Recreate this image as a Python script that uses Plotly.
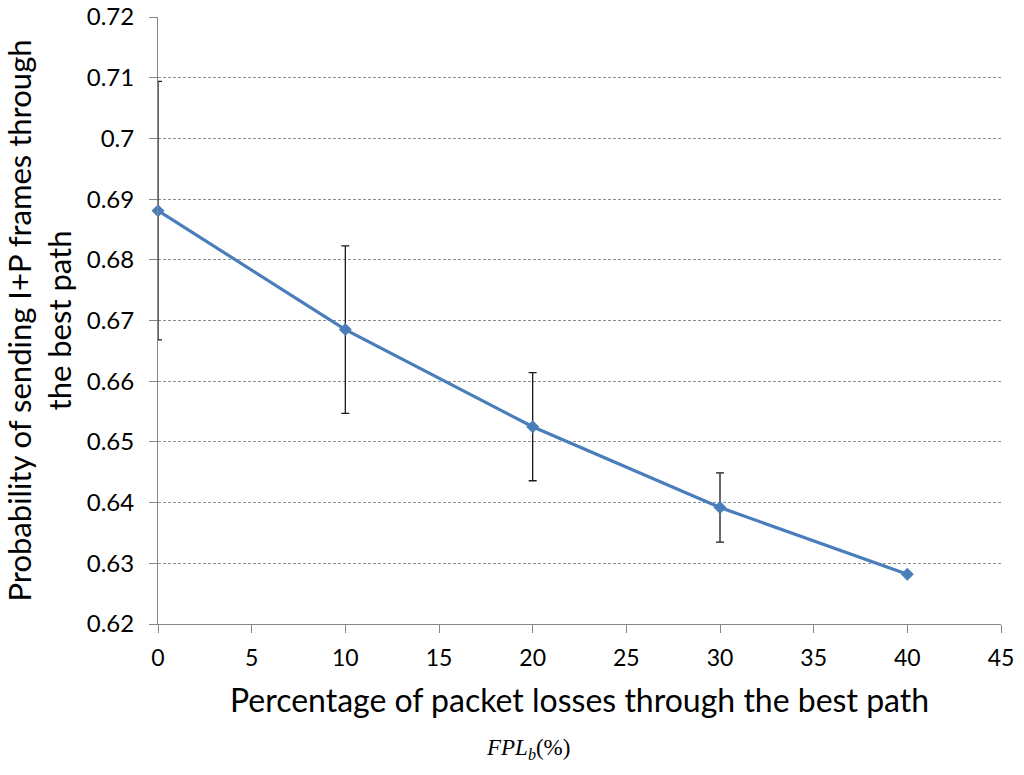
import plotly.graph_objects as go

x_vals = [0, 10, 20, 30, 40]
y_vals = [0.6881, 0.6685, 0.6525, 0.6392, 0.6282]
err_vals = [0.0213, 0.0138, 0.0089, 0.0057, 0.0]
y_ticks = [0.62, 0.63, 0.64, 0.65, 0.66, 0.67, 0.68, 0.69, 0.70, 0.71, 0.72]
y_tick_text = ["0.62", "0.63", "0.64", "0.65", "0.66", "0.67", "0.68", "0.69", "0.7", "0.71", "0.72"]
x_ticks = [0, 5, 10, 15, 20, 25, 30, 35, 40, 45]

font_family = "Lato, 'Open Sans', sans-serif"

fig = go.Figure()
fig.add_trace(go.Scatter(
    x=x_vals, y=y_vals, mode="lines+markers",
    line=dict(color="#4a7ebb", width=3.2),
    marker=dict(symbol="diamond", size=10, color="#4a7ebb"),
    error_y=dict(type="data", array=err_vals, visible=True, color="#1a1a1a", thickness=1.3, width=4),
    cliponaxis=False,
    showlegend=False,
))

fig.update_layout(
    width=1024, height=775,
    margin=dict(l=158, r=23, t=17, b=151),
    paper_bgcolor="white", plot_bgcolor="white",
    font=dict(family=font_family, color="black"),
    xaxis=dict(
        range=[0, 45], tickvals=x_ticks, showgrid=False, zeroline=False,
        showline=True, linecolor="#868686", linewidth=1,
        ticks="outside", ticklen=8, tickcolor="#868686",
        tickfont=dict(size=23), automargin=False, ticklabelstandoff=5,
        title=dict(text="Percentage of packet losses through the best path", font=dict(size=32), standoff=20),
    ),
    yaxis=dict(
        range=[0.62, 0.72], tickvals=y_ticks, ticktext=y_tick_text,
        showgrid=True, gridcolor="#8c8c8c", griddash="3px,2px", gridwidth=1,
        zeroline=False, showline=True, linecolor="#868686", linewidth=1,
        ticks="outside", ticklen=8, tickcolor="#868686",
        tickfont=dict(size=24), automargin=False, ticklabelstandoff=10,
        title=dict(text="Probability of sending I+P frames through<br>the best path", font=dict(size=31), standoff=14),
    ),
)

fig.add_annotation(
    text="<i>FPL<sub>b</sub></i>(%)", xref="paper", yref="paper",
    x=0.439, y=-0.206, xanchor="center", yanchor="middle", showarrow=False,
    font=dict(family="'Liberation Serif', serif", size=23, color="black"),
)

fig.write_html("out.html", config={"displayModeBar": False},
               post_script="document.body.style.margin='0';document.body.style.overflow='hidden';")
